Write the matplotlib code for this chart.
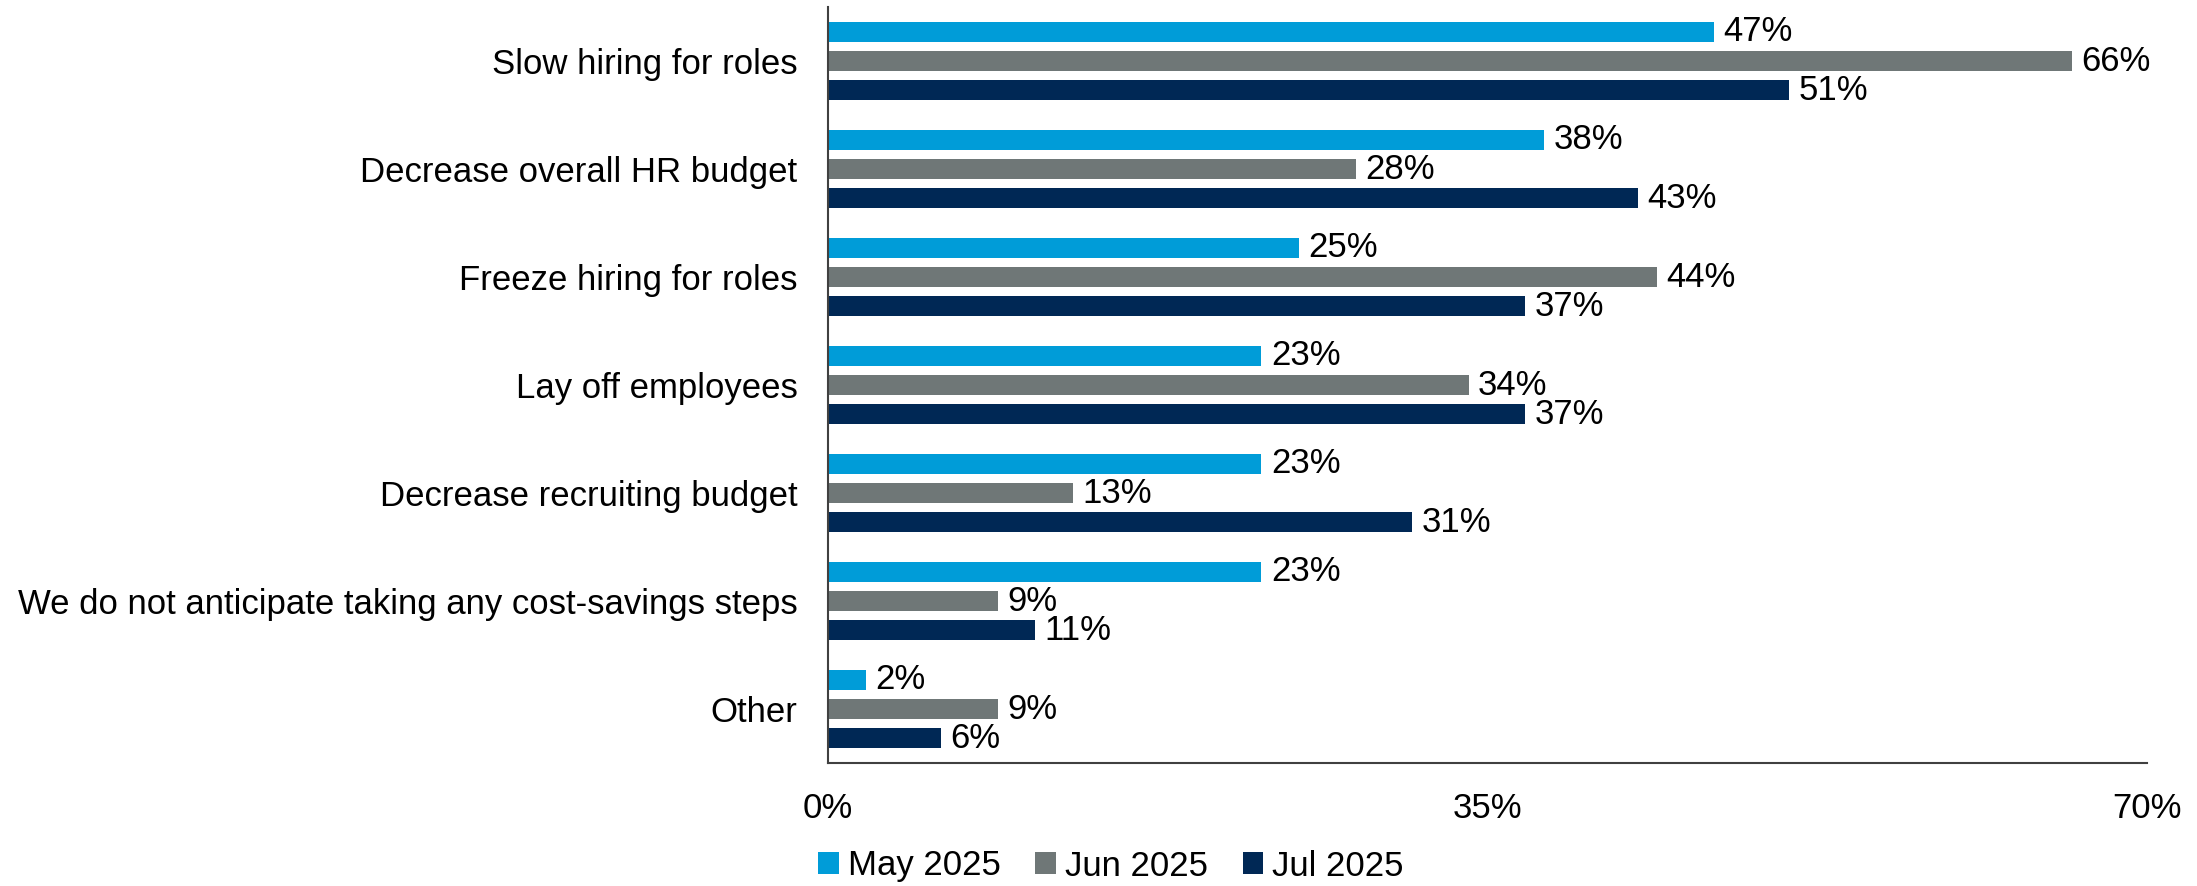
import matplotlib
matplotlib.use("Agg")
import matplotlib.pyplot as plt
import numpy as np
from matplotlib.patches import Patch

categories = ["Slow hiring for roles", "Decrease overall HR budget", "Freeze hiring for roles",
              "Lay off employees", "Decrease recruiting budget",
              "We do not anticipate taking any cost-savings steps", "Other"]
series_names = ["May 2025", "Jun 2025", "Jul 2025"]
may_2025 = [47, 38, 25, 23, 23, 23, 2]
jun_2025 = [66, 28, 44, 34, 13, 9, 9]
jul_2025 = [51, 43, 37, 37, 31, 11, 6]
x_ticks = [0, 35, 70]
x_tick_labels = ["0%", "35%", "70%"]

colors = ["#009CD8", "#6F7777", "#002855"]

plt.rcParams['font.family'] = ['Liberation Sans', 'DejaVu Sans']
fs = 25

fig = plt.figure(figsize=(21.97, 8.86), dpi=100)
ax = fig.add_axes([828/2197, 1-763/886, (2147-828)/2197, (763-7)/886])

n = len(categories)
y = np.arange(n)
pitch = 0.27
h = 0.18
for i, (vals, c) in enumerate(zip([may_2025, jun_2025, jul_2025], colors)):
    yy = y + (i - 1) * pitch
    ax.barh(yy, vals, height=h, color=c)
    for v, yv in zip(vals, yy):
        ax.text(v + 0.5, yv, f"{v}%", va="center", ha="left", fontsize=fs, color="black")

ax.set_ylim(n - 0.5, -0.5)
ax.set_xlim(0, 70)
ax.set_yticks(y)
ax.set_yticklabels(categories, fontsize=fs)
ax.set_xticks(x_ticks)
ax.set_xticklabels(x_tick_labels, fontsize=fs)
ax.tick_params(axis="both", length=0)
ax.tick_params(axis="y", pad=22)
ax.tick_params(axis="x", pad=21)
for s in ["top", "right"]:
    ax.spines[s].set_visible(False)
for s in ["left", "bottom"]:
    ax.spines[s].set_color("#404040")
    ax.spines[s].set_linewidth(1.5)

handles = [Patch(facecolor=c, label=l) for c, l in zip(colors, series_names)]
fig.legend(handles=handles, loc="center", bbox_to_anchor=(1111/2197, 1-866/886), ncol=3,
           frameon=False, fontsize=fs, handlelength=0.6, handleheight=0.6,
           handletextpad=0.25, columnspacing=1.0)

fig.savefig("out.png", dpi=100)
